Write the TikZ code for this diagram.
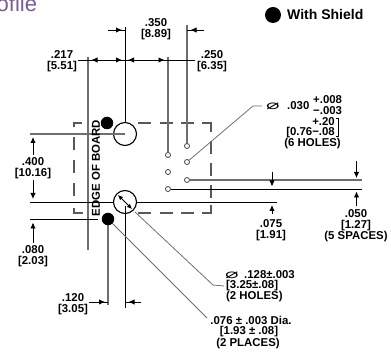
\documentclass[tikz,border=0pt]{standalone}
\usepackage{fontspec}
\setmainfont{Liberation Sans}
\newfontfamily\symf{DejaVu Sans}
\usetikzlibrary{arrows.meta}
\definecolor{gr}{HTML}{6E6E6E}
\definecolor{ttl}{HTML}{7B5A96}
\tikzset{
  lbl/.style={font=\bfseries\fontsize{11.4}{11}\selectfont,inner sep=0pt,align=center},
  symb/.style={font=\symf\fontsize{15}{15}\selectfont,inner sep=0pt,xscale=1.5,yscale=0.85},
  thin1/.style={black,line width=0.9pt},
  thick1/.style={gr,line width=1.2pt},
  lead/.style={gr,line width=0.8pt},
  tip/.style={thin1,-{Latex[length=6pt,width=5.5pt]}},
  hole/.style={circle,draw=black!75,line width=0.8pt,fill=white,minimum size=5pt,inner sep=0pt},
  bighole/.style={circle,draw=black,line width=1.1pt,minimum size=23pt,inner sep=0pt},
  shield/.style={circle,fill=black,minimum size=12.5pt,inner sep=0pt},
  dashline/.style={black!65,line width=1.1pt,dash pattern=on 13pt off 8.5pt},
}
\begin{document}
\begin{tikzpicture}[x=1pt,y=-1pt]
\useasboundingbox (0,0) rectangle (391,352);
\begin{scope}
\clip (0,0) rectangle (391,352);
\node[anchor=base west,inner sep=0pt,text=ttl,font=\fontsize{22}{22}\selectfont] (title) at (-3.5,12) {ofile};
\end{scope}
% legend
\node[shield,minimum size=16pt] (lg) at (273,15) {};
\node[lbl,anchor=west,font=\bfseries\fontsize{14}{14}\selectfont] (lgt) at (287,15) {With Shield};
% dashed outline
\draw[dashline,dash pattern=on 20pt off 0pt] (74,127) -- (74,123) -- (82,123);
\draw[dashline,dash pattern=on 13pt off 10pt] (74,137) -- (74,200);
\draw[dashline,dash pattern=on 20pt off 0pt] (74,208) -- (74,213) -- (83,213);
\draw[dashline] (138,123) -- (194,123);
\draw[dashline,dash pattern=on 20pt off 0pt] (202,123) -- (211,123) -- (211,132);
\draw[dashline,dash pattern=on 13pt off 9pt] (211,141) -- (211,205);
\draw[dashline,dash pattern=on 20pt off 0pt] (211,205) -- (211,213) -- (202,213);
\draw[dashline] (194,213) -- (138,213);
% shapes
\node[bighole] (c1) at (125,134) {};
\node[bighole] (c2) at (125,202) {};
\node[hole] (h1) at (187,146) {};
\node[hole] (h2) at (168,155) {};
\node[hole] (h3) at (187,162) {};
\node[hole] (h4) at (168,172) {};
\node[hole] (h5) at (187,180) {};
\node[hole] (h6) at (168,189) {};
% verticals
\coordinate (eT) at (88,57); \coordinate (eB) at (88,250);
\draw[thick1] (eT) -- (eB);
\coordinate (t1) at (125,27);
\draw[thin1] (t1) -- (c1.north);
\draw[thick1] (168,57) -- (h2.north);
\draw[thick1] (187,25) -- (h1.north);
\coordinate (b2) at (125,308); \coordinate (b1) at (108,305);
\draw[thin1] (125,206) -- (b2);
\draw[thick1] (108,219) -- (b1);
% horizontals
\draw[thick1] (30,134) -- (c1.center);
\draw[thin1] (30,202) -- (c2.west);
\draw[thin1] (c2.east) -- (277,202);
\draw[thin1] (30,219) -- (98,219);
\draw[thick1] (h5.east) -- (362,180);
\draw[thin1] (h6.east) -- (362,189);
% top dims
\draw[thin1] (78,60) -- (195,60);
\draw[thin1] (108,30) -- (125,30);
\draw[thin1] (204,30) -- (187,30);
\draw[tip] (99,60) -- (91.5,60);
\draw[tip] (115,60) -- (122,60);
\draw[tip] (136,60) -- (128,60);
\draw[tip] (157,60) -- (164.5,60);
\draw[tip] (115,30) -- (122,30);
\draw[tip] (198,30) -- (190.5,30);
% left dims
\draw[tip] (33,155) -- (33,137);
\draw[tip] (33,180) -- (33,199);
\draw[tip] (33,243) -- (33,222.5);
% bottom dims
\draw[thin1] (89,302) -- (108,302);
\draw[thin1] (141,302) -- (125,302);
\draw[tip] (97,302) -- (105,302);
\draw[tip] (136,302) -- (128.5,302);
% right dims
\draw[tip] (272,172) -- (272,186.5);
\draw[tip] (272,214) -- (272,205);
\draw[tip] (356.5,161) -- (356.5,178);
\draw[tip] (356.5,206) -- (356.5,191.5);
% inner diameter arrow
\draw[thin1,{Latex[length=5pt,width=4.5pt]}-{Latex[length=5pt,width=4.5pt]}] (118,195) -- (132,209);
% leaders
\draw[lead] (h3) -- (253,106) -- (262,106);
\draw[lead] (135,212) -- (213,285) -- (224,286);
\draw[lead] (108,219) -- (207,318);
\node[shield] (s1) at (107,123) {};
\node[shield] (s2) at (108,219) {};
% labels
\node[lbl] (a) at (62,61) {.217\\{}[5.51]};
\node[lbl] (b) at (156,29) {.350\\{}[8.89]};
\node[lbl] (c) at (212,61) {.250\\{}[6.35]};
\node[lbl] (d) at (33,168) {.400\\{}[10.16]};
\node[lbl] (e) at (33,256) {.080\\{}[2.03]};
\node[lbl] (f) at (73,304) {.120\\{}[3.05]};
\node[lbl] (g) at (271,230) {.075\\{}[1.91]};
\node[lbl] (i) at (356,226) {.050\\{}[1.27]\\(5 SPACES)};
\node[lbl,rotate=90] (edge) at (96,168) {EDGE OF BOARD};
% hole notes
\node[symb] (p1) at (273,106) {⌀};
\node[lbl,anchor=west] (v1) at (287,106) {.030};
\node[lbl,anchor=west] (v2) at (313,100) {+.008};
\node[lbl,anchor=west] (v3) at (313,110.5) {−.003};
\node[lbl,anchor=east] (v4) at (335,122) {+.20};
\node[lbl,anchor=east] (v5) at (335,133) {[0.76−.08};
\draw[black,line width=1pt] (336,119) -- (338.5,119) -- (338.5,137) -- (336,137);
\node[lbl,anchor=east] (v6) at (341,144) {(6 HOLES)};
\node[symb] (p2) at (232,275) {⌀};
\node[lbl,anchor=west] (w1) at (244,275) {.128±.003};
\node[lbl,anchor=west] (w2) at (226,286) {[3.25±.08]};
\node[lbl,anchor=west] (w3) at (226,297) {(2 HOLES)};
\node[lbl] (x1) at (251,320) {.076 ± .003 Dia.};
\node[lbl] (x2) at (249,332) {[1.93 ± .08]};
\node[lbl] (x3) at (248,344) {(2 PLACES)};
\end{tikzpicture}
\end{document}
